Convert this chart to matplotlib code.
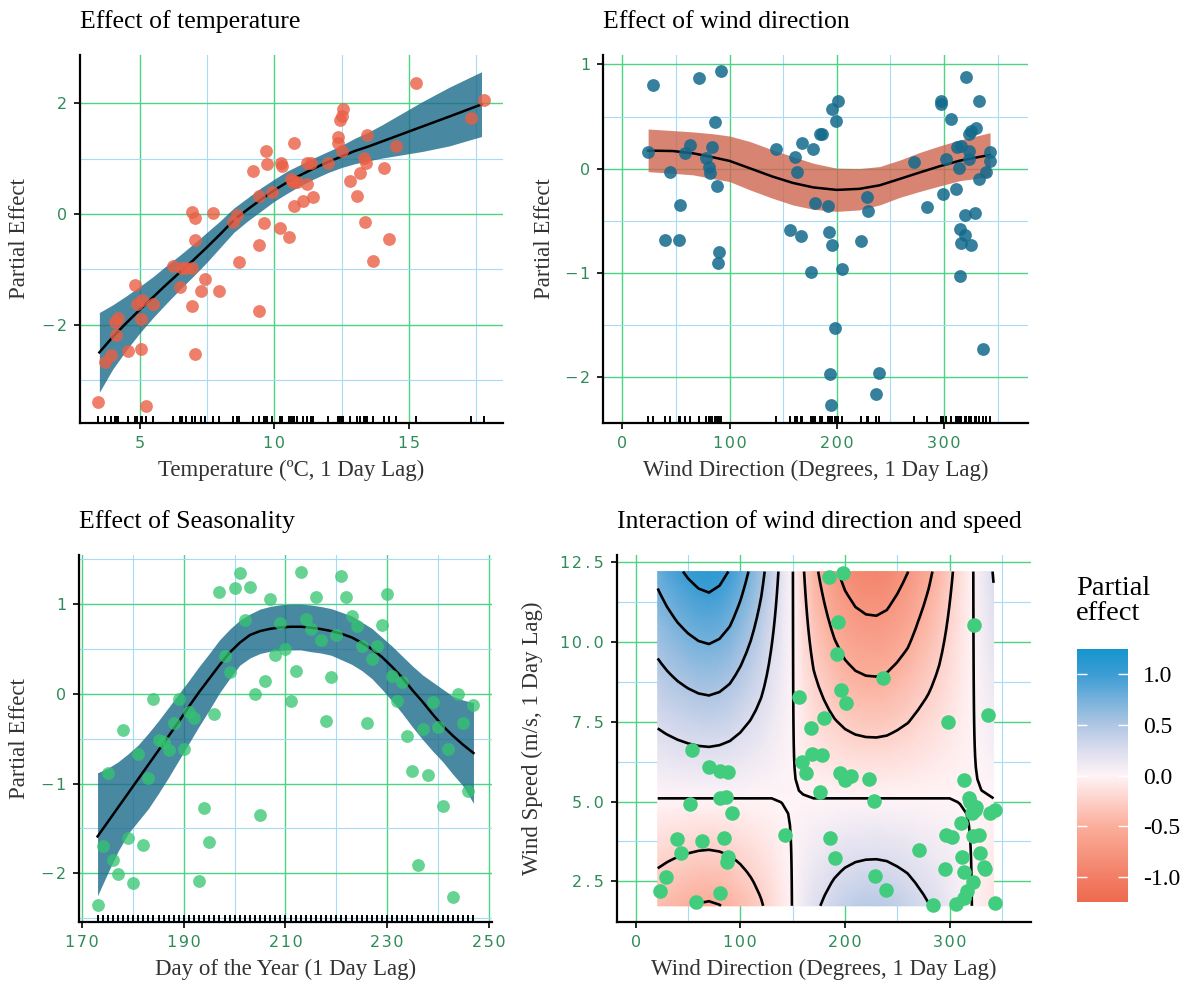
import numpy as np
import matplotlib
matplotlib.use("Agg")
import matplotlib.pyplot as plt
from matplotlib.colors import LinearSegmentedColormap, Normalize

W, H = 1181, 982
SERIF = "Liberation Serif"
TICKFONT = "DejaVu Sans"
TICK_COL = "#2E8B57"
MAJ_GRID = "#4CD383"
MIN_GRID = "#A5DBF7"
TEAL = "#1B6A8A"

# --- temperature panel ---
temp_x = [3.46, 3.70, 3.95, 4.07, 4.20, 4.11, 4.57, 4.81, 4.88, 5.10, 5.06, 5.04, 5.22, 5.49,
          6.23, 6.48, 6.58, 6.73, 6.95, 6.94, 7.04, 7.06, 6.95, 7.04, 7.28, 7.41, 7.72, 7.96,
          8.46, 8.60, 8.70, 9.20, 9.44, 9.44, 9.44, 9.63, 9.69, 9.73, 9.91, 10.25, 10.28, 10.22,
          10.53, 10.62, 10.74, 10.74, 10.68, 10.86, 11.07, 11.20, 11.36, 11.23, 11.44, 11.98,
          12.35, 12.38, 12.43, 12.51, 12.56, 12.51, 12.80, 13.09, 13.17, 13.33, 13.40, 13.37,
          13.46, 13.67, 14.07, 14.26, 14.51, 15.27, 17.32, 17.78]
temp_y = [-3.39, -2.67, -2.55, -1.95, -1.87, -2.19, -2.48, -1.28, -1.63, -1.55, -1.90, -2.43,
          -3.46, -1.63, -0.94, -1.31, -0.97, -0.97, -0.97, 0.04, -0.08, -0.47, -1.66, -2.53,
          -1.39, -1.18, 0.01, -1.40, -0.14, -0.02, -0.86, 0.77, 0.33, -0.56, -1.75, -0.17, 1.13,
          0.90, 0.39, 0.93, 0.86, -0.25, -0.41, 0.63, 1.29, 0.15, 0.57, 0.57, 0.23, 0.92, 0.92,
          0.55, 0.31, 0.92, 1.40, 1.29, 1.70, 1.77, 1.90, 1.13, 0.60, 0.33, 0.75, 1.01, 0.93,
          -0.15, 1.42, -0.85, 0.83, -0.46, 1.22, 2.37, 1.74, 2.06]
temp_grid = [3.5, 4.0, 4.5, 5.0, 5.5, 6.0, 6.5, 7.0, 7.5, 8.0, 8.5, 9.0, 9.5, 10.0, 10.5, 11.0,
             11.5, 12.0, 12.5, 13.0, 13.5, 14.0, 15.0, 15.5, 16.5, 17.7]
temp_fit = [-2.50, -2.22, -1.97, -1.73, -1.50, -1.27, -1.05, -0.83, -0.60, -0.36, -0.11, 0.08,
            0.26, 0.43, 0.58, 0.71, 0.83, 0.94, 1.04, 1.14, 1.22, 1.31, 1.49, 1.58, 1.76, 1.98]
temp_lo = [-3.22, -2.80, -2.46, -2.15, -1.87, -1.61, -1.36, -1.12, -0.87, -0.60, -0.33, -0.13,
           0.05, 0.23, 0.38, 0.52, 0.64, 0.75, 0.84, 0.91, 0.96, 1.01, 1.09, 1.13, 1.23, 1.40]
temp_hi = [-1.78, -1.64, -1.48, -1.31, -1.13, -0.93, -0.74, -0.54, -0.33, -0.12, 0.11, 0.29,
           0.47, 0.63, 0.78, 0.90, 1.02, 1.13, 1.24, 1.37, 1.48, 1.61, 1.89, 2.03, 2.29, 2.57]

# --- wind direction panel ---
wd_x = [24, 29, 40, 44, 53, 54, 58, 63, 71, 78, 81, 82, 84, 86, 88, 90, 89, 92, 143, 156, 161,
        163, 167, 168, 176, 178, 180, 184, 186, 192, 193, 194, 195, 196, 196, 198, 199, 201,
        205, 223, 228, 229, 237, 239, 272, 284, 297, 297, 299, 302, 307, 311, 312, 314, 315,
        316, 316, 315, 320, 320, 321, 323, 323, 323, 325, 325, 329, 330, 333, 333, 336, 339,
        343, 343]
wd_y = [0.16, 0.80, -0.68, -0.03, -0.68, -0.35, 0.15, 0.23, 0.87, 0.10, 0.02, -0.04, 0.21, 0.45,
        -0.17, -0.80, -0.91, 0.94, 0.19, -0.59, 0.11, -0.03, -0.65, 0.25, -0.99, 0.19, -0.33,
        0.33, 0.33, -0.36, -0.61, -1.97, -2.27, 0.57, -0.73, -1.53, 0.46, 0.65, -0.96, -0.69,
        -0.27, -0.41, -2.16, -1.96, 0.06, -0.37, 0.65, 0.62, -0.24, 0.09, 0.48, -0.20, 0.21,
        0.01, -0.58, 0.22, -0.71, -1.03, -0.44, -0.64, 0.88, 0.33, 0.17, 0.09, 0.36, -0.73,
        -0.43, 0.39, 0.65, -0.10, -1.73, -0.03, 0.16, 0.07]
wd_grid = [24, 47, 66, 84, 100, 119, 140, 159, 178, 200, 221, 240, 259, 277, 296, 315, 343]
wd_fit = [0.173, 0.169, 0.147, 0.110, 0.074, 0.003, -0.076, -0.137, -0.180, -0.204, -0.194,
          -0.160, -0.098, -0.038, 0.023, 0.077, 0.132]
wd_lo = [-0.029, -0.045, -0.060, -0.095, -0.124, -0.204, -0.284, -0.348, -0.390, -0.410,
         -0.396, -0.348, -0.275, -0.220, -0.166, -0.115, -0.077]
wd_hi = [0.380, 0.365, 0.352, 0.335, 0.313, 0.260, 0.180, 0.115, 0.052, 0.004, 0.000, 0.020,
         0.083, 0.154, 0.218, 0.275, 0.345]

# --- seasonality panel ---
season_day = [173, 174, 175, 176, 177, 178, 179, 180, 181, 182, 183, 184, 185, 186, 187, 188,
              189, 190, 191, 192, 193, 194, 195, 196, 197, 198, 199, 200, 201, 202, 203, 204,
              205, 206, 207, 208, 209, 210, 211, 212, 213, 214, 215, 216, 217, 218, 219, 220,
              221, 222, 223, 224, 225, 226, 227, 228, 229, 230, 231, 232, 233, 234, 235, 236,
              237, 238, 239, 240, 241, 242, 243, 244, 245, 246, 247]
season_y = [-2.36, -1.70, -0.88, -1.85, -2.01, -0.40, -1.61, -2.11, -0.67, -1.69, -0.94, -0.06,
            -0.51, -0.54, -0.63, -0.32, -0.06, -0.61, -0.20, -0.27, -2.09, -1.27, -1.65, -0.22,
            1.13, 0.42, 0.24, 1.18, 1.35, 0.82, 1.19, 0.00, -1.35, 0.14, 1.06, 0.43, 0.79, 0.50,
            -0.08, 0.25, 1.36, 0.83, 0.72, 1.08, 0.60, -0.30, 0.19, 0.66, 1.31, 1.08, 0.87, 0.76,
            0.53, -0.33, 0.39, 0.53, 0.77, 1.11, 0.20, -0.08, 0.13, -0.47, -0.86, -1.91, -0.39,
            -0.90, -0.09, -0.37, -1.25, -0.62, -2.27, 0.00, -0.33, -1.08, -0.13]
season_grid = [173, 175, 177, 179, 181, 183, 185, 187, 189, 191, 193, 195, 197, 199, 201, 203,
               205, 207, 209, 211, 213, 215, 217, 219, 221, 223, 225, 227, 229, 231, 233, 235,
               237, 239, 241, 243, 245, 247]
season_fit = [-1.59, -1.43, -1.27, -1.11, -0.95, -0.79, -0.63, -0.47, -0.31, -0.14, 0.02, 0.17,
              0.32, 0.46, 0.57, 0.656, 0.70, 0.725, 0.74, 0.748, 0.748, 0.738, 0.722, 0.70,
              0.67, 0.63, 0.57, 0.50, 0.41, 0.30, 0.18, 0.04, -0.09, -0.23, -0.36, -0.47,
              -0.57, -0.66]
season_lo = [-2.25, -2.00, -1.76, -1.56, -1.42, -1.28, -1.11, -0.93, -0.74, -0.55, -0.36, -0.18,
             0.01, 0.17, 0.32, 0.40, 0.45, 0.475, 0.485, 0.49, 0.49, 0.47, 0.455, 0.43, 0.38,
             0.33, 0.26, 0.17, 0.05, -0.08, -0.22, -0.37, -0.51, -0.64, -0.76, -0.90, -1.03,
             -1.22]
season_hi = [-0.88, -0.83, -0.76, -0.67, -0.57, -0.44, -0.30, -0.15, 0.00, 0.15, 0.305, 0.45,
             0.60, 0.72, 0.82, 0.89, 0.945, 0.975, 0.993, 1.0, 1.0, 0.99, 0.973, 0.95, 0.91,
             0.87, 0.80, 0.73, 0.63, 0.53, 0.42, 0.31, 0.21, 0.13, 0.05, -0.03, -0.07, -0.10]

# --- interaction panel ---
ws_dir = [23.5, 28.7, 39.7, 43.7, 51.8, 53.8, 57.9, 63.2, 70.0, 80.2, 80.2, 81.0, 84.2, 86.2,
          87.0, 88.3, 88.3, 92.3, 142.9, 155.9, 159.1, 163.2, 167.2, 168.4, 176.5, 178.5, 180.2,
          184.6, 185.4, 190.7, 192.3, 193.5, 195.5, 196.4, 198.4, 199.6, 200.8, 205.7, 223.1,
          227.9, 229.1, 238.9, 236.0, 270.4, 283.8, 296.0, 296.8, 298.8, 302.0, 306.1, 310.9,
          312.1, 313.8, 314.2, 314.2, 316.2, 318.2, 319.8, 321.1, 322.3, 323.1, 323.9, 325.1,
          322.3, 327.9, 329.1, 333.2, 334.0, 336.4, 338.5, 343.3, 343.3]
ws_speed = [2.19, 2.62, 3.82, 3.40, 4.91, 6.63, 1.85, 3.77, 6.07, 5.96, 2.14, 5.12, 3.87, 5.15,
            3.11, 3.26, 5.93, 4.65, 3.94, 8.28, 6.24, 5.88, 7.31, 6.49, 5.30, 6.45, 7.63, 12.03,
            3.86, 3.23, 9.64, 10.64, 5.91, 8.49, 12.15, 5.67, 8.08, 5.81, 5.70, 5.01, 2.66, 2.24,
            8.88, 3.49, 1.77, 2.90, 3.94, 7.50, 3.89, 1.80, 4.33, 3.26, 2.79, 5.69, 1.96, 2.19,
            5.12, 4.99, 4.64, 2.48, 10.53, 4.75, 4.83, 3.91, 3.94, 3.40, 2.95, 2.87, 7.71, 4.64,
            4.75, 1.82]
# effect per m/s of speed (relative to speed_zero), read along wind direction
surf_dir = [21, 30, 40, 50, 60, 70, 80, 90, 100, 110, 120, 130, 140, 150, 160, 170, 180, 190,
            200, 210, 220, 230, 240, 250, 260, 270, 280, 290, 300, 310, 320, 330, 342]
surf_slope = [0.114, 0.125, 0.136, 0.145, 0.152, 0.155, 0.150, 0.139, 0.121, 0.101, 0.079,
              0.052, 0.025, 0.0, -0.033, -0.062, -0.081, -0.100, -0.115, -0.125, -0.130, -0.131,
              -0.127, -0.117, -0.106, -0.090, -0.076, -0.060, -0.041, -0.022, -0.004, 0.014, 0.037]
surf_offset = [0, 0, 0, 0, 0, 0, 0, 0, 0, 0, 0, 0, 0.004, 0.006, 0.004, 0, 0, 0, 0, 0, 0, 0,
               0, 0, 0, 0, 0, 0, 0, -0.004, -0.006, -0.004, 0]
speed_zero = 5.1
speed_range = (1.73, 12.21)
contour_levels = [-0.75, -0.5, -0.25, 0.0, 0.25, 0.5, 0.75, 1.0]
cbar_ticks = [-1.0, -0.5, 0.0, 0.5, 1.0]

plt.rcParams["font.family"] = [SERIF, "DejaVu Serif"]
fig = plt.figure(figsize=(W / 100, H / 100), dpi=100)


def px_axes(l, t, r, b):
    return fig.add_axes([l / W, 1 - b / H, (r - l) / W, (b - t) / H])


def fmt(v, dec=0):
    # tick labels in the original are widely tracked: pad glyphs with hair/thin spaces
    s = f"{v:.{dec}f}".replace("-", "\u2212")
    out = s[0]
    for prev, ch in zip(s, s[1:]):
        out += ("\u2009" if "." in (prev, ch) else "\u200a") + ch
    return out


def style(ax, xlim, ylim, xmaj, xmin, ymaj, ymin, ydec=0):
    ax.set_xlim(*xlim)
    ax.set_ylim(*ylim)
    ax.set_xticks(xmaj, labels=[fmt(v) for v in xmaj], fontfamily=TICKFONT)
    ax.set_yticks(ymaj, labels=[fmt(v, ydec) for v in ymaj], fontfamily=TICKFONT)
    ax.set_xticks(xmin, minor=True)
    ax.set_yticks(ymin, minor=True)
    ax.grid(which="major", color=MAJ_GRID, lw=1.0)
    ax.grid(which="minor", color=MIN_GRID, lw=0.8)
    ax.set_axisbelow(True)
    for s in ["top", "right"]:
        ax.spines[s].set_visible(False)
    for s in ["left", "bottom"]:
        ax.spines[s].set_linewidth(1.6)
    ax.tick_params(which="major", length=4.3, width=1.2, color="black",
                   labelcolor=TICK_COL, labelsize=11.5, pad=5)
    ax.tick_params(which="minor", length=0)


def rug(ax, xs):
    ax.vlines(xs, 0, 0.02, transform=ax.get_xaxis_transform(), colors="black", lw=1.4, zorder=4)


def labels(ax_box, title, xlabel, ylabel, ylab_x):
    l, t, r, b = ax_box
    fig.text(l / W, 1 - (t - 33) / H, title, fontsize=18.5, va="center", ha="left")
    fig.text((l + r) / 2 / W, 1 - (b + 47) / H, xlabel, fontsize=16.5, color="#333333",
             ha="center", va="center")
    fig.text(ylab_x / W, 1 - (t + b) / 2 / H, ylabel, fontsize=16.5, color="#333333",
             ha="center", va="center", rotation=90)


# panel 1
box1 = (80, 55, 503, 423)
ax1 = px_axes(*box1)
style(ax1, (2.78, 18.5), (-3.776, 2.873), [5, 10, 15], [7.5, 12.5, 17.5], [-2, 0, 2], [-3, -1, 1])
ax1.fill_between(temp_grid, temp_lo, temp_hi, color=TEAL, alpha=0.8, lw=0, zorder=2)
ax1.plot(temp_grid, temp_fit, color="black", lw=1.8, zorder=3)
ax1.scatter(temp_x, temp_y, s=85, color="#EA5F45", alpha=0.8, lw=0, zorder=4)
rug(ax1, temp_x)
labels(box1, "Effect of temperature", "Temperature (\u00baC, 1 Day Lag)", "Partial Effect", 20)

# panel 2
box2 = (603, 55, 1028, 423)
ax2 = px_axes(*box2)
style(ax2, (-18.1, 378.4), (-2.44, 1.09), [0, 100, 200, 300], [50, 150, 250, 350],
      [-2, -1, 0, 1], [-1.5, -0.5, 0.5])
ax2.fill_between(wd_grid, wd_lo, wd_hi, color="#CF6550", alpha=0.8, lw=0, zorder=2)
ax2.plot(wd_grid, wd_fit, color="black", lw=1.8, zorder=3)
ax2.scatter(wd_x, wd_y, s=85, color="#136A8C", alpha=0.85, lw=0, zorder=4)
rug(ax2, wd_x)
labels(box2, "Effect of wind direction", "Wind Direction (Degrees, 1 Day Lag)",
       "Partial Effect", 544.5)

# panel 3
box3 = (79, 555, 492, 922)
ax3 = px_axes(*box3)
style(ax3, (169.35, 250.65), (-2.544, 1.548), [170, 190, 210, 230, 250], [180, 200, 220, 240],
      [-2, -1, 0, 1], [-2.5, -1.5, -0.5, 0.5, 1.5])
ax3.fill_between(season_grid, season_lo, season_hi, color=TEAL, alpha=0.8, lw=0, zorder=2)
ax3.plot(season_grid, season_fit, color="black", lw=1.8, zorder=3)
ax3.scatter(season_day, season_y, s=85, color="#33C56E", alpha=0.75, lw=0, zorder=4)
rug(ax3, season_day)
labels(box3, "Effect of Seasonality", "Day of the Year (1 Day Lag)", "Partial Effect", 20)

# panel 4
box4 = (617, 555, 1031, 922)
ax4 = px_axes(*box4)
style(ax4, (-17.9, 377.8), (1.223, 12.73), [0, 100, 200, 300], [50, 150, 250, 350],
      [2.5, 5.0, 7.5, 10.0, 12.5], [3.75, 6.25, 8.75, 11.25], ydec=1)
cmap = LinearSegmentedColormap.from_list("pe", [
    (0.0, "#EE6A4F"), (0.1, "#F27F66"), (0.3, "#FBAE9B"), (0.5, "#FFF4F7"),
    (0.6, "#DCDDEE"), (0.7, "#AFC6E3"), (0.9, "#3D9DD4"), (1.0, "#1695CD")])
norm = Normalize(-1.25, 1.25)
speed_rows = np.linspace(speed_range[0], speed_range[1], 30)
X, Y = np.meshgrid(surf_dir, speed_rows)
Z = np.outer(speed_rows - speed_zero, surf_slope) + np.array(surf_offset)[None, :]
mesh = ax4.pcolormesh(X, Y, Z, cmap=cmap, norm=norm, shading="gouraud", zorder=1)
ax4.contour(X, Y, Z, levels=contour_levels, colors="black", linewidths=1.9,
            linestyles="solid", zorder=2)
ax4.scatter(ws_dir, ws_speed, s=110, color="#41CD7D", lw=0, zorder=4)
labels(box4, "Interaction of wind direction and speed", "Wind Direction (Degrees, 1 Day Lag)",
       "Wind Speed (m/s, 1 Day Lag)", 532.5)

# colour bar
cax = px_axes(1077, 649, 1128, 902)
cb = fig.colorbar(mesh, cax=cax)
cb.outline.set_visible(False)
cb.set_ticks(cbar_ticks, labels=[f"{v:.1f}" for v in cbar_ticks])
cax.tick_params(length=0, labelsize=17, pad=11)
cax.hlines(cbar_ticks, 0, 0.2, colors="white", lw=1)
cax.hlines(cbar_ticks, 0.8, 1.0, colors="white", lw=1)
fig.text(1076 / W, 1 - 576 / H, "Partial\neffect", fontsize=20.5, va="top", ha="left",
         linespacing=1.0)

fig.savefig("out.png", dpi=100)
